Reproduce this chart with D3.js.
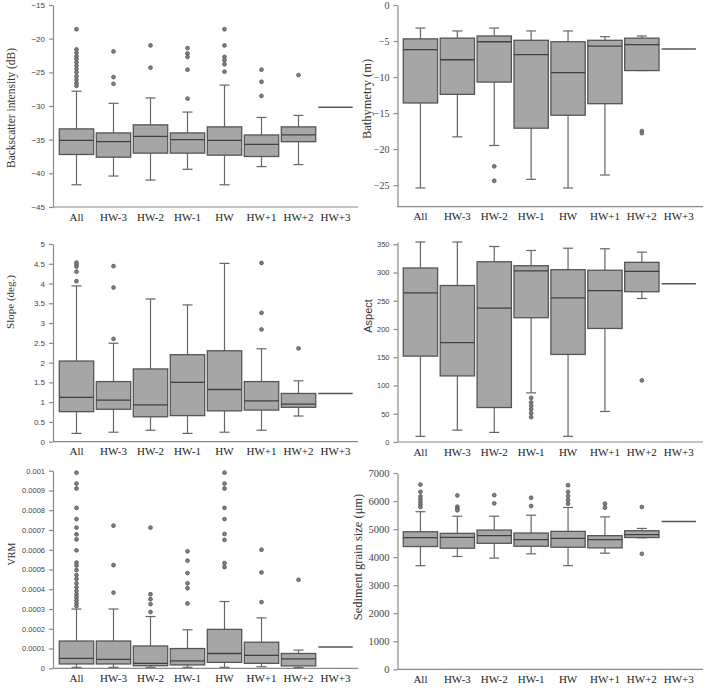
<!DOCTYPE html>
<html lang="en">
<head>
<meta charset="UTF-8">
<script src="https://cdn.jsdelivr.net/npm/d3@7"></script>
<style>
  body { margin: 0; background: #fff; }
  .box { fill: #a6a6a6; stroke: #555; stroke-width: 1.3px; }
  .med { stroke: #3f3f3f; stroke-width: 1.3px; }
  .whisk { stroke: #666; stroke-width: 1.2px; }
  .single { stroke: #555; stroke-width: 1.5px; }
  .out { fill: #808080; stroke: #555; stroke-width: 0.8px; }
  .axis path, .axis line { stroke: #8a8a8a; stroke-width: 1.2px; }
</style>
</head>
<body>
<svg id="chart" width="709" height="688"></svg>
<script>
var categories = ["All", "HW-3", "HW-2", "HW-1", "HW", "HW+1", "HW+2", "HW+3"];

// each row: [low whisker, q1, median, q3, high whisker]
var backscatterBox = [
  [-41.7, -37.2, -35.1, -33.4, -27.8],
  [-40.4, -37.6, -35.3, -34.0, -29.6],
  [-41.0, -37.0, -34.5, -32.8, -28.8],
  [-39.4, -37.0, -35.0, -34.0, -30.9],
  [-41.7, -37.3, -35.1, -33.1, -26.9],
  [-39.0, -37.5, -35.7, -34.3, -31.7],
  [-38.7, -35.3, -34.3, -33.1, -31.4],
  [-30.2, -30.2, -30.2, -30.2, -30.2]
];
var backscatterOut = [
  [-18.6, -21.6, -22.1, -22.6, -23.0, -23.5, -24.0, -24.5, -25.0, -25.6, -26.1, -26.6, -27.0],
  [-21.9, -25.7, -26.7],
  [-21.0, -24.3],
  [-21.4, -22.2, -22.7, -24.6, -28.9],
  [-18.6, -21.0, -22.7, -23.2, -23.8, -24.9],
  [-24.6, -26.4, -28.5],
  [-25.4],
  []
];

var bathymetryBox = [
  [-25.4, -13.6, -6.2, -4.7, -3.2],
  [-18.3, -12.4, -7.6, -4.6, -3.6],
  [-19.5, -10.7, -5.1, -4.3, -3.2],
  [-24.2, -17.1, -6.9, -4.9, -3.6],
  [-25.4, -15.3, -9.4, -5.1, -3.6],
  [-23.6, -13.7, -5.7, -4.9, -4.4],
  [-9.1, -9.1, -5.5, -4.6, -4.3],
  [-6.1, -6.1, -6.1, -6.1, -6.1]
];
var bathymetryOut = [[], [], [-22.4, -24.4], [], [], [], [-17.5, -17.8], []];

var slopeBox = [
  [0.21, 0.76, 1.12, 2.04, 3.94],
  [0.24, 0.82, 1.05, 1.52, 2.49],
  [0.29, 0.63, 0.93, 1.84, 3.61],
  [0.21, 0.66, 1.50, 2.20, 3.46],
  [0.24, 0.78, 1.32, 2.30, 4.51],
  [0.29, 0.80, 1.03, 1.52, 2.35],
  [0.65, 0.87, 0.95, 1.22, 1.54],
  [1.22, 1.22, 1.22, 1.22, 1.22]
];
var slopeOut = [
  [4.53, 4.48, 4.43, 4.30, 4.06],
  [4.44, 3.90, 2.60],
  [], [],
  [],
  [4.52, 3.26, 2.84],
  [2.36],
  []
];

var aspectBox = [
  [10, 152, 264, 308, 354],
  [21, 117, 176, 277, 354],
  [17, 61, 237, 319, 346],
  [87, 220, 303, 312, 339],
  [10, 155, 255, 305, 343],
  [54, 201, 268, 304, 342],
  [254, 266, 302, 318, 336],
  [280, 280, 280, 280, 280]
];
var aspectOut = [[], [], [], [78, 70, 64, 58, 51, 44], [], [], [109], []];

var vrmBox = [
  [0.000005, 0.000022, 0.000050, 0.000138, 0.000300],
  [0.000005, 0.000022, 0.000045, 0.000138, 0.000300],
  [0.000005, 0.000013, 0.000025, 0.000113, 0.000262],
  [0.000005, 0.000017, 0.000038, 0.000100, 0.000195],
  [0.000005, 0.000030, 0.000075, 0.000197, 0.000338],
  [0.000008, 0.000025, 0.000065, 0.000132, 0.000255],
  [0.000003, 0.000012, 0.000048, 0.000075, 0.000092],
  [0.000108, 0.000108, 0.000108, 0.000108, 0.000108]
];
var vrmOut = [
  [0.00099, 0.000935, 0.00091, 0.000812, 0.000755, 0.000712, 0.000678, 0.000652, 0.000597, 0.000535,
   0.00052, 0.000497, 0.000472, 0.000452, 0.00043, 0.00041, 0.000391, 0.000374, 0.000359, 0.000344,
   0.000329, 0.000315],
  [0.000722, 0.000522, 0.000383],
  [0.000712, 0.000375, 0.00035, 0.000325, 0.000285],
  [0.000592, 0.000545, 0.000482, 0.000430, 0.000405, 0.000328],
  [0.00099, 0.000935, 0.00091, 0.000812, 0.000755, 0.00068, 0.00065, 0.000532, 0.000512],
  [0.0006, 0.000485, 0.000335],
  [0.000448],
  []
];

var grainBox = [
  [3695, 4377, 4694, 4906, 5620],
  [4024, 4318, 4706, 4847, 5459],
  [3965, 4494, 4765, 4965, 5459],
  [4118, 4388, 4624, 4859, 5494],
  [3695, 4353, 4671, 4918, 5770],
  [4141, 4330, 4624, 4765, 5435],
  [4690, 4700, 4800, 4941, 5024],
  [5270, 5270, 5270, 5270, 5270]
];
var grainOut = [
  [6588, 6330, 6165, 6070, 5976, 5882, 5788],
  [6200, 5800, 5729, 5670],
  [6211, 5917],
  [6117, 5823],
  [6564, 6329, 6176, 6035, 5906],
  [5906, 5764],
  [5788, 4118],
  []
];

var svg = d3.select("#chart");
var serif = "'Liberation Serif', 'Times New Roman', serif";
var sans = "'Liberation Sans', Arial, sans-serif";

var cols = [
  { axisX: 53, start: 58, step: 37, end: 358 },
  { axisX: 397.5, start: 402, step: 36.9, end: 703 }
];

var panels = [
  { box: backscatterBox, out: backscatterOut, col: 0, domain: [-45, -15], range: [207, 5],
    ticks: d3.range(-45, -14, 5), tickFont: sans, tickSize: 8, fmt: d3.format("d"),
    title: "Backscatter intensity (dB)", titleFont: serif, titleSize: 11.5, titleX: 15, titleY: 108 },
  { box: bathymetryBox, out: bathymetryOut, col: 1, domain: [-28, 0], range: [206.7, 5],
    ticks: d3.range(-25, 1, 5), tickFont: serif, tickSize: 10, fmt: d3.format("d"),
    title: "Bathymetry (m)", titleFont: serif, titleSize: 12.5, titleX: 371, titleY: 99 },
  { box: slopeBox, out: slopeOut, col: 0, domain: [0, 5], range: [441.7, 244],
    ticks: d3.range(0, 5.01, 0.5), tickFont: sans, tickSize: 8, fmt: function(d) { return String(+d.toFixed(1)); },
    title: "Slope (deg.)", titleFont: serif, titleSize: 11, titleX: 14, titleY: 302 },
  { box: aspectBox, out: aspectOut, col: 1, domain: [0, 354], range: [442, 242],
    ticks: d3.range(0, 351, 50), tickFont: sans, tickSize: 7.5, fmt: d3.format("d"),
    title: "Aspect", titleFont: sans, titleSize: 11, titleX: 372, titleY: 316 },
  { box: vrmBox, out: vrmOut, col: 0, domain: [0, 0.001], range: [668.3, 470.7],
    ticks: d3.range(0, 11).map(function(i) { return i / 10000; }), tickFont: sans, tickSize: 7.5,
    fmt: function(d) { return String(+d.toFixed(4)); },
    title: "VRM", titleFont: serif, titleSize: 10, titleX: 15, titleY: 554 },
  { box: grainBox, out: grainOut, col: 1, domain: [0, 7000], range: [669.3, 473],
    ticks: d3.range(0, 7001, 1000), tickFont: serif, tickSize: 10.5, fmt: d3.format("d"),
    title: "Sediment grain size (\u03bcm)", titleFont: serif, titleSize: 12.5, titleX: 362, titleY: 557 }
];

panels.forEach(function(p) {
  var c = cols[p.col];
  var x = d3.scaleBand().domain(categories)
    .range([c.start, c.start + c.step * categories.length])
    .paddingInner(0.07).paddingOuter(0.035);
  var y = d3.scaleLinear().domain(p.domain).range(p.range);
  var g = svg.append("g");
  var bottom = p.range[0];

  // y axis
  var ya = g.append("g").attr("class", "axis")
    .attr("transform", "translate(" + c.axisX + ",0)")
    .call(d3.axisLeft(y).tickValues(p.ticks).tickSize(4).tickSizeOuter(0).tickPadding(4).tickFormat(p.fmt));
  ya.selectAll("text").attr("font-family", p.tickFont).attr("font-size", p.tickSize).attr("fill", "#444");

  // x axis line + category labels
  g.append("line").attr("x1", c.axisX).attr("x2", c.end).attr("y1", bottom).attr("y2", bottom)
    .attr("stroke", "#8a8a8a").attr("stroke-width", 1.2);
  var xa = g.append("g").attr("transform", "translate(0," + bottom + ")")
    .call(d3.axisBottom(x).tickSize(0).tickPadding(6));
  xa.select(".domain").remove();
  xa.selectAll("text").attr("font-family", serif).attr("font-size", 11).attr("fill", "#222");

  var bw = x.bandwidth();
  var cap = 10;
  categories.forEach(function(cat, i) {
    var s = p.box[i];
    var x0 = x(cat), cx = x0 + bw / 2;
    if (s[1] === s[3]) {
      g.append("line").attr("class", "single")
        .attr("x1", x0).attr("x2", x0 + bw).attr("y1", y(s[2])).attr("y2", y(s[2]));
      return;
    }
    // whiskers
    [[s[0], s[1]], [s[3], s[4]]].forEach(function(w) {
      if (w[0] === w[1]) return;
      g.append("line").attr("class", "whisk")
        .attr("x1", cx).attr("x2", cx).attr("y1", y(w[0])).attr("y2", y(w[1]));
    });
    [s[0], s[4]].forEach(function(v) {
      g.append("line").attr("class", "whisk")
        .attr("x1", cx - cap / 2).attr("x2", cx + cap / 2).attr("y1", y(v)).attr("y2", y(v));
    });
    g.append("rect").attr("class", "box")
      .attr("x", x0).attr("width", bw)
      .attr("y", y(s[3])).attr("height", y(s[1]) - y(s[3]));
    g.append("line").attr("class", "med")
      .attr("x1", x0).attr("x2", x0 + bw).attr("y1", y(s[2])).attr("y2", y(s[2]));
    g.selectAll(null).data(p.out[i]).enter().append("circle").attr("class", "out")
      .attr("cx", cx).attr("cy", function(d) { return y(d); }).attr("r", 1.9);
  });

  g.append("text")
    .attr("transform", "translate(" + p.titleX + "," + p.titleY + ") rotate(-90)")
    .attr("text-anchor", "middle")
    .attr("font-family", p.titleFont).attr("font-size", p.titleSize).attr("fill", "#333")
    .text(p.title);
});
</script>
</body>
</html>
